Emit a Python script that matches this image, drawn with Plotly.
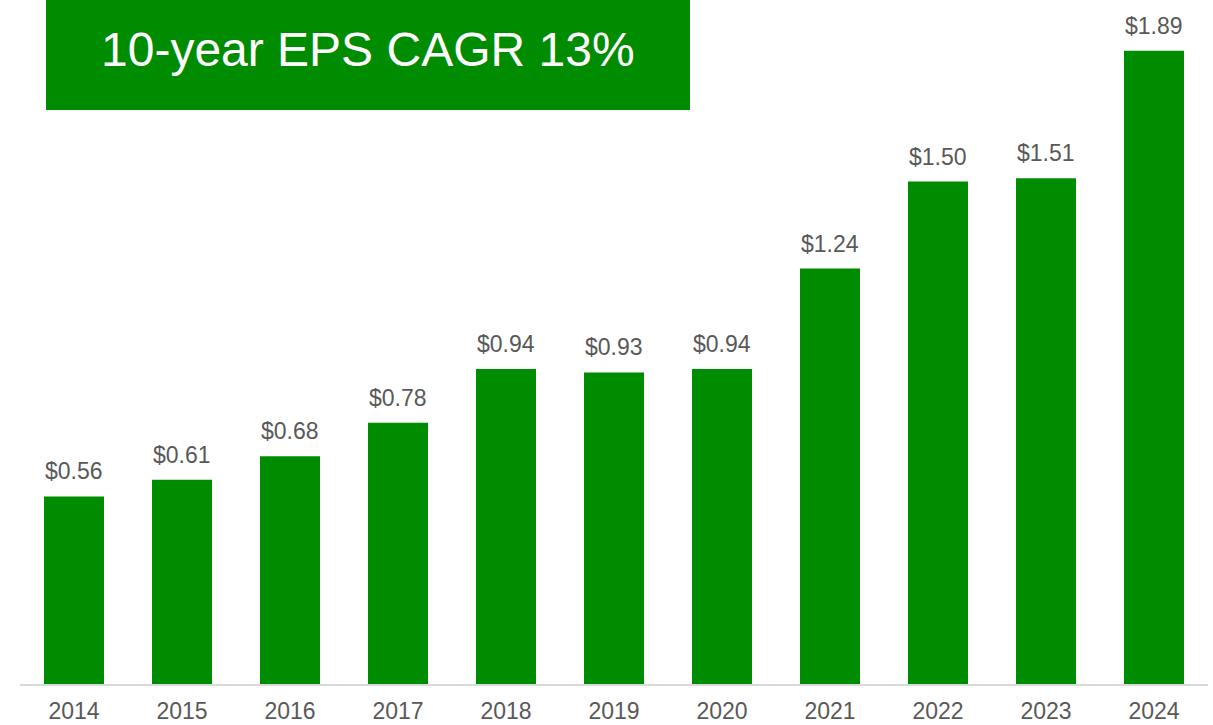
import plotly.graph_objects as go

years = ["2014", "2015", "2016", "2017", "2018", "2019", "2020", "2021", "2022", "2023", "2024"]
eps = [0.56, 0.61, 0.68, 0.78, 0.94, 0.93, 0.94, 1.24, 1.50, 1.51, 1.89]
labels = ["$%.2f" % v for v in eps]
title_text = "10-year EPS CAGR 13%"

GREEN = "#008C00"
TXT = "#595959"
FONT = "Liberation Sans, Arial, sans-serif"

fig = go.Figure(go.Bar(
    x=years, y=eps,
    marker=dict(color=GREEN, line=dict(width=0)),
    cliponaxis=False, hoverinfo="skip",
))

# category axis: annotations placed by category index
annots = [dict(x=i, y=v, xref="x", yref="y", text=t, showarrow=False,
               xanchor="center", yanchor="bottom", yshift=10,
               font=dict(size=23, color=TXT, family=FONT))
          for i, (v, t) in enumerate(zip(eps, labels))]

annots.append(dict(xref="paper", yref="paper",
                   x=(368 - 20) / 1188, y=(684 - 49) / 670,
                   text=title_text, showarrow=False,
                   font=dict(size=48, color="white", family=FONT),
                   xanchor="center", yanchor="middle"))

fig.update_layout(
    width=1213, height=725,
    margin=dict(l=20, r=5, t=14, b=41),
    paper_bgcolor="white", plot_bgcolor="white",
    bargap=0.444, showlegend=False,
    font=dict(family=FONT, color=TXT),
    xaxis=dict(type="category", range=[-0.5, 10.5], showgrid=False,
               showline=True, linecolor="#D9D9D9", linewidth=2,
               ticks="", ticklabelstandoff=5, automargin=False,
               tickfont=dict(size=23, color=TXT, family=FONT)),
    yaxis=dict(range=[0, 2.0], visible=False, showgrid=False, zeroline=False,
               automargin=False),
    shapes=[dict(type="rect", xref="paper", yref="paper",
                 x0=(46 - 20) / 1188, x1=(690 - 20) / 1188,
                 y0=(684 - 110) / 670, y1=(684 + 14) / 670,
                 fillcolor=GREEN, line=dict(width=0), layer="above")],
    annotations=annots,
)

fig.write_html("out.html", config={"displayModeBar": False},
               post_script="document.body.style.margin='0';")
